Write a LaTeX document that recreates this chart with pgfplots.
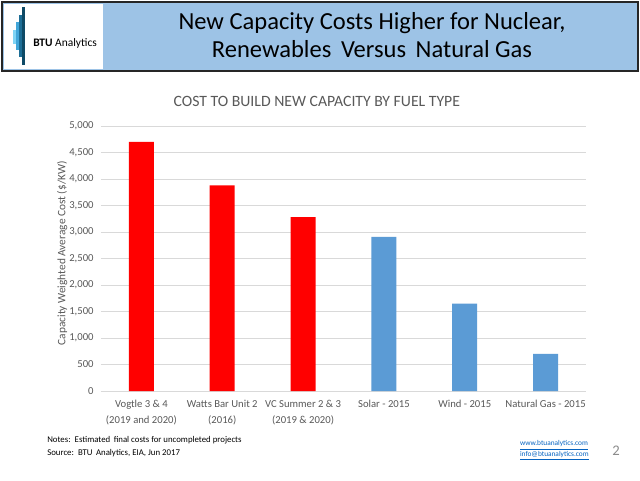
\documentclass[border=0pt]{standalone}
\usepackage{fontspec}
\setmainfont{Carlito}
\usepackage{pgfplots}
\pgfplotsset{compat=1.18}

\definecolor{banner}{HTML}{9DC3E6}
\definecolor{nuclear}{HTML}{FF0000}
\definecolor{other}{HTML}{5B9BD5}
\definecolor{txtgray}{HTML}{595959}
\definecolor{gridgray}{HTML}{D9D9D9}
\definecolor{linkblue}{HTML}{0563C1}
\definecolor{logoA}{HTML}{0E4A66}
\definecolor{logoB}{HTML}{1D6E96}
\definecolor{logoC}{HTML}{41A6D9}
\definecolor{logoD}{HTML}{7FD4F5}

\begin{document}
\begin{tikzpicture}
\path[use as bounding box, fill=white] (0,0) rectangle (480pt,360pt);

% header and footer, in pixel units (y downward)
\begin{scope}[x=0.75pt, y=-0.75pt, yshift=360pt]
  \fill[banner] (2,2) rectangle (638,71);
  \draw[black!85, line width=0.8pt] (2,2) rectangle (638,71);
  \draw[black!85, line width=1.5pt] (2,71) -- (638,71);
  \fill[white] (4,4) rectangle (103,69);
  % logo
  \fill[logoA] (22,7) rectangle (25,65);
  \fill[logoB] (19,15) rectangle (22,57);
  \fill[logoC] (16,22) rectangle (19,50);
  \fill[logoD] (13,30) rectangle (16,44);
  \node[anchor=west, inner sep=0pt, font=\fontsize{8.6}{9}\selectfont] at (33,43) {\textbf{BTU} Analytics};
  \node[align=center, font=\fontsize{18.4}{21}\selectfont] at (372,35.5)
    {New Capacity Costs Higher for Nuclear,\\Renewables\, Versus\, Natural Gas};
  % footer
  \node[anchor=west, inner sep=0pt, align=left, font=\fontsize{6.6}{9.5}\selectfont] at (47,446.5)
    {Notes:\, Estimated\, final costs for uncompleted projects\\Source:\, BTU\, Analytics, EIA, Jun 2017};
  \node[anchor=east, inner sep=0pt, align=left, text=linkblue, font=\fontsize{5.5}{5.6}\selectfont] at (589,450.5)
    {\underline{www.btuanalytics.com}\\\underline{info@btuanalytics.com}};
  \node[text=black!45, font=\fontsize{11}{12}\selectfont] at (616,451) {2};
\end{scope}

\begin{axis}[
    at={(75.75pt,66.75pt)}, anchor=south west,
    scale only axis,
    width=363.75pt, height=198.75pt,
    xmin=-0.5, xmax=5.5,
    ymin=0, ymax=5000,
    xtick={0,1,2,3,4,5},
    xticklabels={{Vogtle 3 \& 4\\(2019 and 2020)},
                 {Watts Bar Unit 2\\(2016)},
                 {VC Summer 2 \& 3\\(2019 \& 2020)},
                 {Solar - 2015},
                 {Wind - 2015},
                 {Natural Gas - 2015}},
    ytick={0,500,...,5000},
    ticklabel style={text=txtgray},
    x tick label style={align=center, yshift=-3.5pt, font=\fontsize{8}{12}\selectfont},
    y tick label style={/pgf/number format/1000 sep={,},
                        /pgf/number format/assume math mode=true,
                        xshift=-2pt, font=\fontsize{8}{9}\selectfont},
    major tick length=0pt,
    axis x line*=bottom,
    axis y line*=left,
    y axis line style={draw=none},
    x axis line style={draw=gridgray, line width=0.75pt, -},
    ymajorgrids=true,
    grid style={draw=gridgray, line width=0.75pt},
    ylabel={Capacity Weighted Average Cost (\$/KW)},
    ylabel style={at={(axis description cs:-0.08,0.52)}, anchor=center,
                  text=txtgray, font=\fontsize{8.5}{9}\selectfont},
    title={COST TO BUILD NEW CAPACITY BY FUEL TYPE},
    title style={at={(axis description cs:0.445,1.063)}, anchor=center,
                 text=txtgray, font=\fontsize{11.8}{12}\selectfont},
    clip=false,
]
\addplot[ybar, bar shift=0pt, bar width=18.75pt, fill=nuclear, draw=none] coordinates {
    (0, 4700) (1, 3880) (2, 3280)
};
\addplot[ybar, bar shift=0pt, bar width=18.75pt, fill=other, draw=none] coordinates {
    (3, 2910) (4, 1650) (5, 700)
};
\end{axis}
\end{tikzpicture}
\end{document}
